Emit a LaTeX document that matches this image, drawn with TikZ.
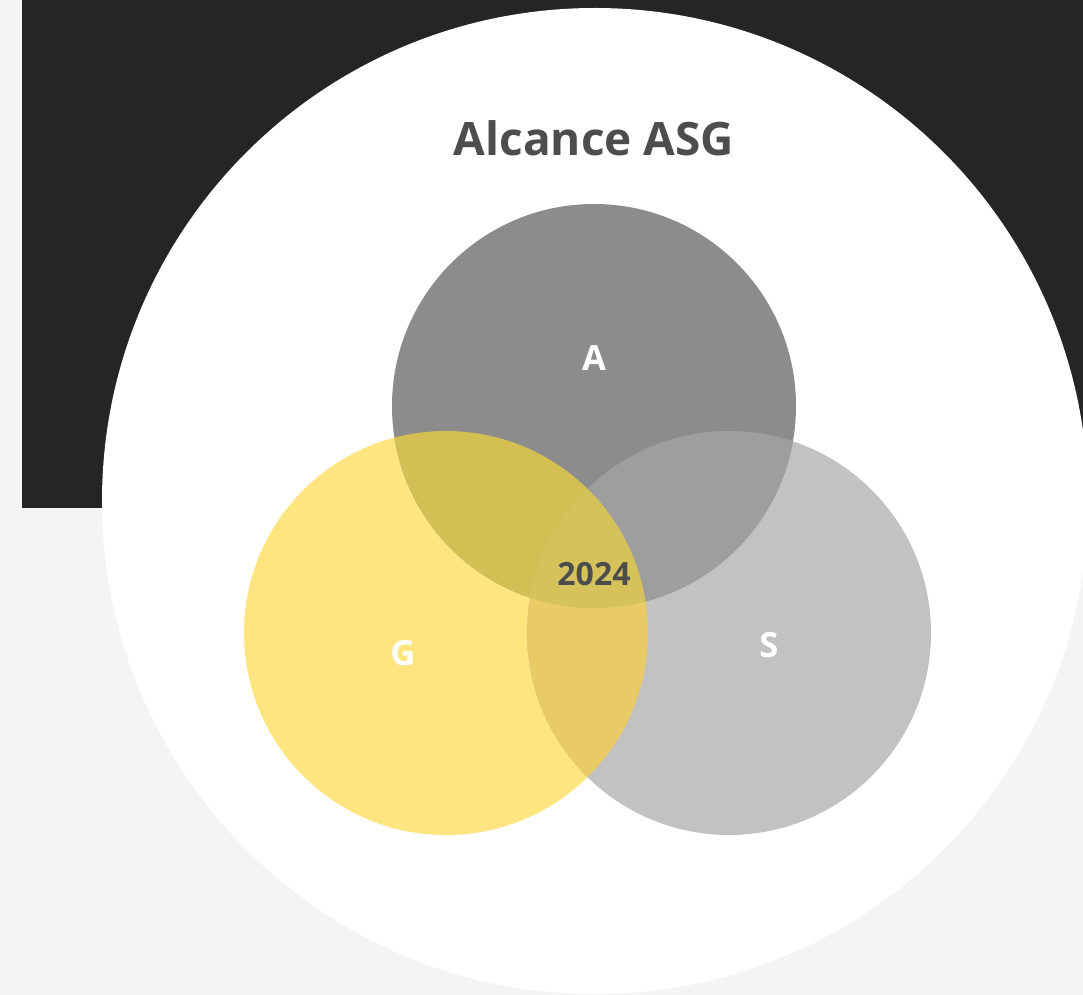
\documentclass[tikz,border=0pt]{standalone}
\usepackage{fontspec}
\setmainfont{Open Sans}
\definecolor{bgc}{HTML}{F4F4F4}
\definecolor{darkc}{HTML}{252525}
\definecolor{titlec}{HTML}{4D4D4D}
\definecolor{ca}{HTML}{8C8C8C}
\definecolor{cs}{HTML}{C2C2C2}
\definecolor{cg}{HTML}{FFE57F}
\definecolor{cga}{HTML}{D4BF55}
\definecolor{cas}{HTML}{9E9E9E}
\definecolor{cgs}{HTML}{E8CB66}
\definecolor{cgas}{HTML}{D6C25A}
\tikzset{
  lbl/.style={font=\bfseries\fontsize{26}{30}\selectfont, text=white},
}
\begin{document}
\begin{tikzpicture}[x=0.75pt,y=-0.75pt]
\useasboundingbox (0,0) rectangle (1083,995);
\fill[bgc] (0,0) rectangle (1083,995);
\fill[darkc] (22,0) rectangle (1083,508);
\fill[white] (595,501) circle (493);
% circles
\fill[cg] (446,633) circle (202);
\fill[cs] (729,633) circle (202);
\fill[ca] (594,406) circle (202);
\begin{scope}
  \clip (446,633) circle (202);
  \fill[cga] (594,406) circle (202);
  \fill[cgs] (729,633) circle (202);
  \clip (729,633) circle (202);
  \fill[cgas] (594,406) circle (202);
\end{scope}
\begin{scope}
  \clip (729,633) circle (202);
  \clip (594,406) circle (202);
  \fill[cas] (446,633) circle (202) (0,0) rectangle (1083,995);
\end{scope}
\begin{scope}
  \clip (446,633) circle (202);
  \clip (729,633) circle (202);
  \fill[cgas] (594,406) circle (202);
\end{scope}
\node[font=\bfseries\fontsize{34.5}{40}\selectfont, text=titlec] (title) at (594,138) {Alcance ASG};
\node[lbl] (la) at (594,358) {A};
\node[lbl] (lg) at (403,653) {G};
\node[lbl] (ls) at (769,645) {S};
\node[font=\bfseries\fontsize{24}{28}\selectfont, text=titlec] (y) at (594,574) {2024};
\end{tikzpicture}
\end{document}
